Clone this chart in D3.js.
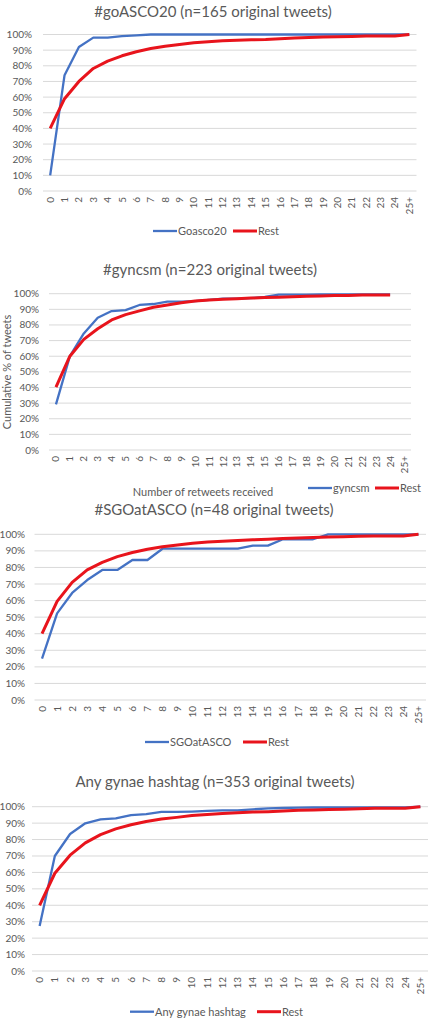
<!DOCTYPE html>
<html>
<head>
<meta charset="utf-8">
<script src="https://cdn.jsdelivr.net/npm/d3@7"></script>
<style>
  body { margin: 0; background: #fff; }
  svg { display: block; font-family: Lato, "Open Sans", sans-serif; }
</style>
</head>
<body>
<svg id="chart" width="429" height="1023"></svg>
<script>
const categories = ['0','1','2','3','4','5','6','7','8','9','10','11','12','13','14','15','16','17','18','19','20','21','22','23','24','25+'];
const yTicks = [0, 10, 20, 30, 40, 50, 60, 70, 80, 90, 100];

// cumulative % of tweets per number of retweets
const goascoValues = [10, 74, 92, 98, 98, 99, 99.5, 100, 100, 100, 100, 100, 100, 100, 100, 100, 100, 100, 100, 100, 100, 100, 100, 100, 100, 100];
const goascoRest = [40, 59, 70, 78.3, 83, 86.4, 89, 91, 92.5, 93.6, 94.8, 95.4, 96, 96.3, 96.6, 96.8, 97.3, 97.7, 98.1, 98.4, 98.6, 98.8, 99, 99, 99.1, 100];
const gyncsmValues = [29.2, 60, 74.6, 84.6, 88.9, 89.5, 92.8, 93.4, 94.9, 94.9, 95.3, 96, 96.8, 96.8, 97.2, 98, 99.4, 99.4, 99.4, 99.5, 99.5, 99.5, 99.5, 99.5, 99.5, null];
const gyncsmRest = [40.3, 60, 70.8, 77.6, 83.2, 86.6, 89, 91.3, 92.8, 94.2, 95.3, 96, 96.4, 96.8, 97.2, 97.5, 97.8, 98, 98.3, 98.6, 98.8, 98.9, 99.1, 99.2, 99.2, null];
const sgoValues = [25, 52.3, 64.6, 72.4, 78.5, 78.5, 84.5, 84.5, 91.3, 91.3, 91.3, 91.3, 91.3, 91.3, 93.2, 93.2, 97, 97, 97, 100, 100, 100, 100, 100, 100, 100];
const sgoRest = [40, 59.5, 71, 78.5, 83, 86.5, 89, 91, 92.5, 93.5, 94.6, 95.3, 95.8, 96.3, 96.7, 97, 97.5, 97.8, 98, 98.3, 98.5, 98.8, 99, 99, 99, 100];
const anyGynaeValues = [27.4, 70, 83.4, 89.9, 92.3, 92.9, 94.9, 95.5, 96.8, 96.8, 97, 97.4, 97.8, 97.8, 98.4, 99, 99.2, 99.4, 99.5, 99.5, 99.5, 99.5, 99.5, 99.5, 99.5, 100];
const anyGynaeRest = [40, 59.5, 70.5, 78, 83, 86.5, 89, 91, 92.5, 93.5, 94.6, 95.3, 95.8, 96.3, 96.7, 97, 97.4, 97.8, 98, 98.3, 98.5, 98.8, 99, 99, 99, 100];

const blue = '#4472c4';
const red = '#e8141c';
const textColor = '#595959';
const gridColor = '#d9d9d9';

const panels = [
  { title: '#goASCO20 (n=165 original tweets)', titleX: 213, titleY: 12,
    series: [{ name: 'Goasco20', values: goascoValues }, { name: 'Rest', values: goascoRest }],
    left: 43, right: 416.5, top: 34.5, bottom: 191, labelX: 32,
    legend: { y: 231, items: [153, 233] } },
  { title: '#gyncsm (n=223 original tweets)', titleX: 210, titleY: 270,
    series: [{ name: 'gyncsm', values: gyncsmValues }, { name: 'Rest', values: gyncsmRest }],
    left: 49, right: 411, top: 293.7, bottom: 450, labelX: 39,
    yTitle: { text: 'Cumulative % of tweets', x: 7, y: 372 },
    xTitle: { text: 'Number of retweets received', x: 203, y: 492 },
    legend: { y: 488, items: [308, 375] } },
  { title: '#SGOatASCO (n=48 original tweets)', titleX: 214, titleY: 510,
    series: [{ name: 'SGOatASCO', values: sgoValues }, { name: 'Rest', values: sgoRest }],
    left: 34.5, right: 426, top: 534.3, bottom: 700, labelX: 25,
    legend: { y: 742, items: [145, 243] } },
  { title: 'Any gynae hashtag (n=353 original tweets)', titleX: 215, titleY: 782,
    series: [{ name: 'Any gynae hashtag', values: anyGynaeValues }, { name: 'Rest', values: anyGynaeRest }],
    left: 32, right: 428, top: 806.7, bottom: 971, labelX: 25,
    legend: { y: 1011.7, items: [130, 257] } }
];

const svg = d3.select('#chart');

panels.forEach(p => {
  const g = svg.append('g');

  const x = d3.scaleBand().domain(categories).range([p.left, p.right]);
  const y = d3.scaleLinear().domain([0, 100]).range([p.bottom, p.top]);
  const cx = c => x(c) + x.bandwidth() / 2;

  g.append('text')
    .attr('x', p.titleX)
    .attr('y', p.titleY)
    .attr('dy', '0.35em')
    .attr('text-anchor', 'middle')
    .attr('fill', textColor)
    .style('font-size', '15px')
    .text(p.title);

  // gridlines
  g.append('g')
    .selectAll('line')
    .data(yTicks)
    .join('line')
    .attr('x1', p.left)
    .attr('x2', p.right)
    .attr('y1', d => y(d))
    .attr('y2', d => y(d))
    .attr('stroke', gridColor)
    .attr('stroke-width', 1);

  // y tick labels
  g.append('g')
    .selectAll('text')
    .data(yTicks)
    .join('text')
    .attr('x', p.labelX)
    .attr('y', d => y(d))
    .attr('dy', '0.35em')
    .attr('text-anchor', 'end')
    .attr('fill', textColor)
    .style('font-size', '10px')
    .text(d => d + '%');

  // x tick labels, rotated
  g.append('g')
    .selectAll('text')
    .data(categories)
    .join('text')
    .attr('transform', d => `translate(${cx(d)}, ${p.bottom + 6}) rotate(-90)`)
    .attr('dy', '0.35em')
    .attr('text-anchor', 'end')
    .attr('fill', textColor)
    .style('font-size', '10px')
    .text(d => d);

  if (p.yTitle) {
    g.append('text')
      .attr('transform', `translate(${p.yTitle.x}, ${p.yTitle.y}) rotate(-90)`)
      .attr('dy', '0.35em')
      .attr('text-anchor', 'middle')
      .attr('fill', textColor)
      .style('font-size', '11px')
      .text(p.yTitle.text);
  }
  if (p.xTitle) {
    g.append('text')
      .attr('x', p.xTitle.x)
      .attr('y', p.xTitle.y)
      .attr('dy', '0.35em')
      .attr('text-anchor', 'middle')
      .attr('fill', textColor)
      .style('font-size', '11px')
      .text(p.xTitle.text);
  }

  const colors = [blue, red];
  const widths = [2.3, 3];

  p.series.forEach((s, i) => {
    const line = d3.line()
      .defined(d => d != null)
      .x((d, j) => cx(categories[j]))
      .y(d => y(d));
    g.append('path')
      .datum(s.values)
      .attr('d', line)
      .attr('fill', 'none')
      .attr('stroke', colors[i])
      .attr('stroke-width', widths[i])
      .attr('stroke-linejoin', 'round');

    // legend
    const lx = p.legend.items[i];
    g.append('line')
      .attr('x1', lx)
      .attr('x2', lx + 24)
      .attr('y1', p.legend.y)
      .attr('y2', p.legend.y)
      .attr('stroke', colors[i])
      .attr('stroke-width', widths[i]);
    g.append('text')
      .attr('x', lx + 25)
      .attr('y', p.legend.y)
      .attr('dy', '0.35em')
      .attr('fill', textColor)
      .style('font-size', '11px')
      .text(s.name);
  });
});
</script>
</body>
</html>
